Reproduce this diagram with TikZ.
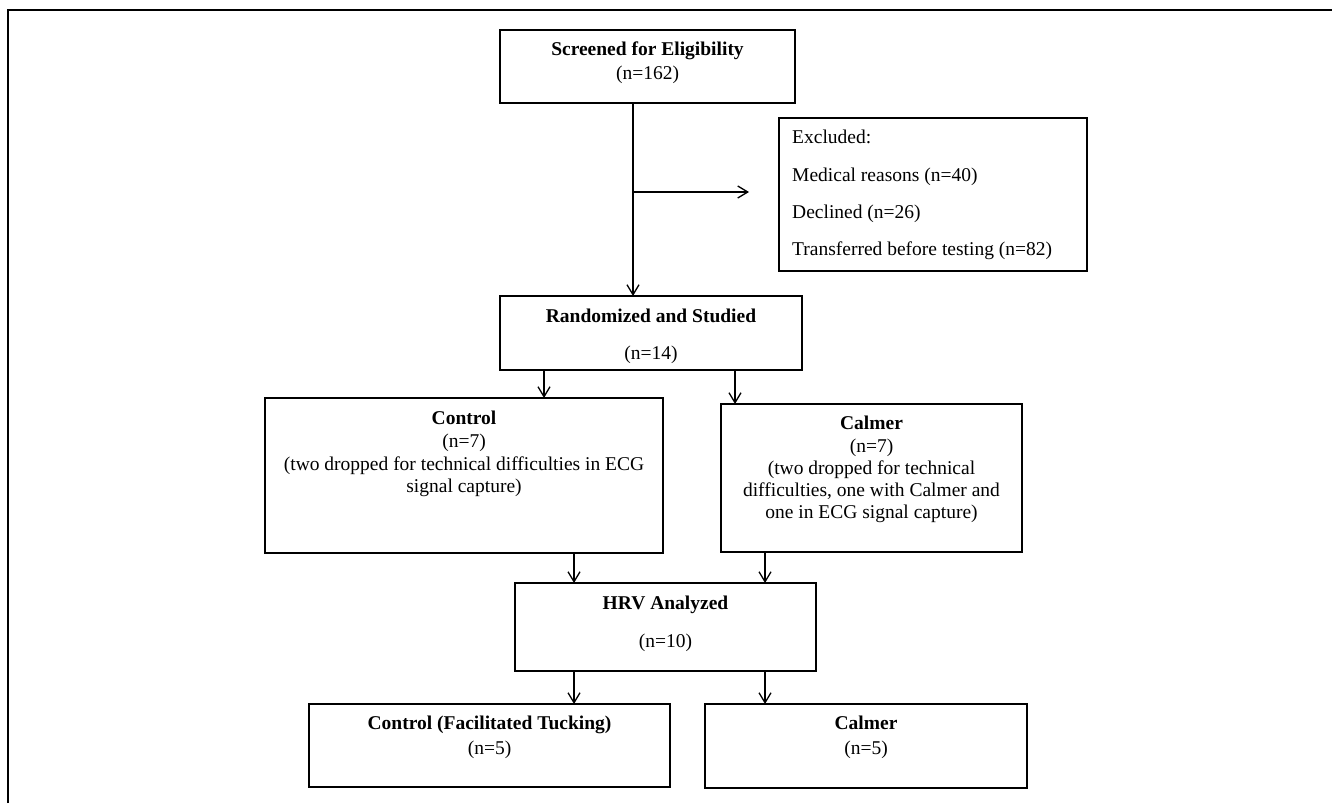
\documentclass[tikz,border=0pt]{standalone}
\usepackage{fontspec}
\setmainfont{Liberation Serif}
\usetikzlibrary{arrows.meta}
\begin{document}
\begin{tikzpicture}[x=1pt,y=-1pt,
  box/.style={draw, line width=1.8pt, inner sep=0pt, outer sep=0pt},
  txt/.style={inner sep=0pt, anchor=base, font=\fontsize{19.5}{22.5}\selectfont},
  btxt/.style={txt, font=\fontsize{19.5}{22.5}\selectfont\bfseries},
  ltxt/.style={txt, anchor=base west},
  arr/.style={line width=1.3pt, -{Straight Barb[length=10pt,width=12pt,line width=1.3pt]}},
  frame/.style={line width=1.6pt}]
\useasboundingbox (0,0) rectangle (1332,803);
\fill[white] (0,0) rectangle (1332,803);
\draw[frame] (8,803) -- (8,10) -- (1332,10);

% boxes
\node[box, minimum width=295pt, minimum height=73pt] (scr) at (647.5,66.5) {};
\node[box, minimum width=308pt, minimum height=153pt] (excl) at (933,194.5) {};
\node[box, minimum width=302pt, minimum height=74pt] (rand) at (651,333) {};
\node[box, minimum width=398pt, minimum height=155pt] (ctrl) at (464,475.5) {};
\node[box, minimum width=301pt, minimum height=148pt] (calm) at (871.5,478) {};
\node[box, minimum width=301pt, minimum height=88pt] (hrv) at (665.5,627) {};
\node[box, minimum width=361pt, minimum height=83pt] (cft) at (489.5,745.5) {};
\node[box, minimum width=322pt, minimum height=84pt] (calmb) at (866,746) {};

% texts
\node[btxt] (scr1) at (647.5,55) {Screened for Eligibility};
\node[txt] (scr2) at (647.5,79) {(n=162)};

\node[ltxt] (ex1) at (792,143) {Excluded:};
\node[ltxt] (ex2) at (792,181) {Medical reasons (n=40)};
\node[ltxt] (ex3) at (792,218) {Declined (n=26)};
\node[ltxt] (ex4) at (792,255) {Transferred before testing (n=82)};

\node[btxt] (rand1) at (651,322) {Randomized and Studied};
\node[txt] (rand2) at (651,359) {(n=14)};

\node[btxt] (ctrl1) at (464,424) {Control};
\node[txt] (ctrl2) at (464,447) {(n=7)};
\node[txt] (ctrl3) at (464,470) {(two dropped for technical difficulties in ECG};
\node[txt] (ctrl4) at (464,492) {signal capture)};

\node[btxt] (calm1) at (871.5,429) {Calmer};
\node[txt] (calm2) at (871.5,452) {(n=7)};
\node[txt] (calm3) at (871.5,474) {(two dropped for technical};
\node[txt] (calm4) at (871.5,496) {difficulties, one with Calmer and};
\node[txt] (calm5) at (871.5,518) {one in ECG signal capture)};

\node[btxt] (hrv1) at (665.5,609) {HRV Analyzed};
\node[txt] (hrv2) at (665.5,647) {(n=10)};

\node[btxt] (cft1) at (489.5,729) {Control (Facilitated Tucking)};
\node[txt] (cft2) at (489.5,754) {(n=5)};

\node[btxt] (calmb1) at (866,729) {Calmer};
\node[txt] (calmb2) at (866,754) {(n=5)};

% connectors
\coordinate (xa) at (633,0);
\coordinate (xb) at (544,0);
\coordinate (xc) at (735,0);
\coordinate (xd) at (574,0);
\coordinate (xe) at (765,0);
\coordinate (br) at (633,192);

\draw[arr] (scr.south -| xa) -- (rand.north -| xa);
\draw[arr, shorten >=30pt] (br) -- (br -| excl.west);
\draw[arr] (rand.south -| xb) -- (ctrl.north -| xb);
\draw[arr] (rand.south -| xc) -- (calm.north -| xc);
\draw[arr] (ctrl.south -| xd) -- (hrv.north -| xd);
\draw[arr] (calm.south -| xe) -- (hrv.north -| xe);
\draw[arr] (hrv.south -| xd) -- (cft.north -| xd);
\draw[arr] (hrv.south -| xe) -- (calmb.north -| xe);
\end{tikzpicture}
\end{document}
